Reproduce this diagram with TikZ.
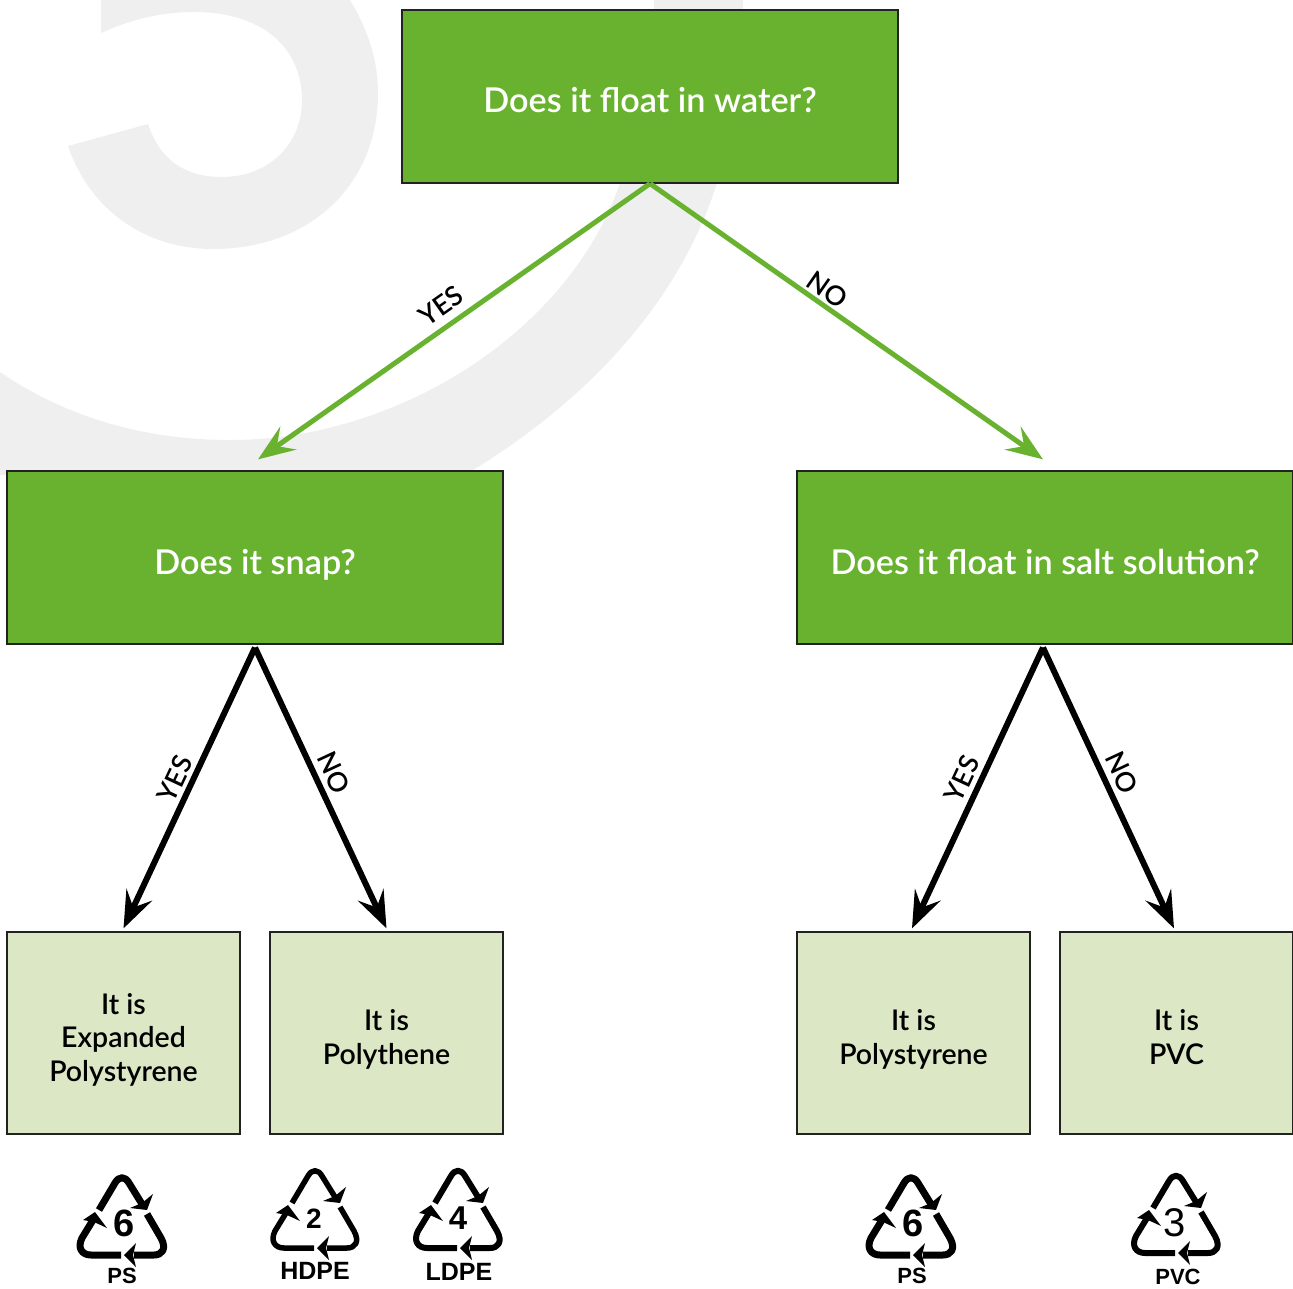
\documentclass[tikz,border=0pt]{standalone}
\usepackage{fontspec}
\setmainfont{Lato}
\newfontfamily\medfont{Lato Medium}
\newfontfamily\semifont{Lato Semibold}
\newfontfamily\symfont{Liberation Sans}
\usetikzlibrary{arrows.meta,calc}
\definecolor{qgreen}{HTML}{68B22F}
\definecolor{leafgreen}{HTML}{DBE7C5}
\definecolor{swoosh}{HTML}{EFEFEF}
\definecolor{edgegrey}{HTML}{222222}
\newcommand\firstline{\rule{0pt}{37pt}}
\newcommand\lastline{\rule[-8pt]{0pt}{1pt}}
\tikzset{
  qbox/.style={draw=edgegrey,line width=1.2pt,fill=qgreen,text=white,minimum width=496pt,minimum height=173pt,inner sep=0pt,text height=41pt,text depth=8pt,font=\semifont\fontsize{34.2}{38}\selectfont},
  leafbox/.style={draw=edgegrey,line width=1.2pt,fill=leafgreen,text=black,minimum width=233pt,minimum height=202pt,inner sep=0pt,align=center,font=\semifont\fontsize{28.5}{33.5}\selectfont},
  head/.style={-{Stealth[length=37pt,width=28pt,inset=14pt]}},
  greenarrow/.style={head,draw=qgreen,fill=qgreen,line width=5pt},
  blackarrow/.style={head,draw=black,fill=black,line width=6pt},
  edgelabel/.style={font=\semifont\fontsize{27}{30}\selectfont,text=black,inner sep=0pt},
  symnum/.style={font=\symfont\bfseries\fontsize{38}{38}\selectfont,inner sep=0pt},
  symnumtwo/.style={font=\symfont\bfseries\fontsize{28}{28}\selectfont,inner sep=0pt},
  symnumfour/.style={font=\symfont\bfseries\fontsize{33}{33}\selectfont,inner sep=0pt},
  symnumthree/.style={font=\symfont\fontsize{40}{40}\selectfont,inner sep=0pt},
  symlabel/.style={font=\symfont\bfseries\fontsize{22}{22}\selectfont,inner sep=0pt},
  symlabelwide/.style={font=\symfont\bfseries\fontsize{25}{25}\selectfont,inner sep=0pt},
  pics/recycle/.style={code={
    \begin{scope}[line width=#1,draw=black,fill=black,line cap=butt,line join=round]
      \draw (-23,33) -- (-7,6) .. controls (-3,-1) and (3,-1) .. (7,6) -- (20,27);
      \fill (25,33) -- (31,17) -- (20,26) -- (8,31) -- cycle;
      \draw (25,37) -- (39,61) .. controls (45,72) and (40,78) .. (32,78) -- (12,78);
      \fill (2,78) -- (14,66) -- (11,78) -- (14,90) -- cycle;
      \draw (-1,78) -- (-31,78) .. controls (-40,78) and (-45,71) .. (-40,61) -- (-29,43);
      \fill (-27,35) -- (-39,43) -- (-28,45) -- (-15,51) -- cycle;
    \end{scope}
  }}
}
\begin{document}
\begin{tikzpicture}[x=1pt,y=-1pt]
\useasboundingbox (0,0) rectangle (1293,1289);
\begin{scope}
  \clip (0,0) rectangle (1293,1289);
  \fill[swoosh] (101,0) -- (101,33) .. controls (130,20) and (160,12) .. (194,12)
    .. controls (265,12) and (302,50) .. (302,100)
    .. controls (302,145) and (268,177) .. (222,177)
    .. controls (185,177) and (160,160) .. (148,124)
    -- (68,146) .. controls (90,210) and (145,249) .. (213,249)
    .. controls (310,249) and (378,185) .. (378,93)
    .. controls (378,60) and (368,30) .. (350,0) -- cycle;
  \fill[swoosh] (0,372) .. controls (70,420) and (150,440) .. (230,440)
    .. controls (400,440) and (570,330) .. (620,183)
    .. controls (645,120) and (654,60) .. (654,0)
    -- (743,0) .. controls (743,60) and (735,120) .. (717,183)
    .. controls (680,300) and (590,400) .. (465,475)
    -- (0,475) -- cycle;
\end{scope}

\node[qbox] (water) at (650,96.5) {Does it float in water?};
\node[qbox] (snap) at (255,557.5) {Does it snap?};
\node[qbox] (salt) at (1045,557.5) {Does it float in salt solution?};

\node[leafbox] (eps) at (123.5,1033) {\firstline It is\\Expanded\\Polystyrene\lastline};
\node[leafbox] (pe) at (386.5,1033) {\firstline It is\\Polythene\lastline};
\node[leafbox] (ps) at (913.5,1033) {\firstline It is\\Polystyrene\lastline};
\node[leafbox] (pvc) at (1176.5,1033) {\firstline It is\\PVC\lastline};

\draw[greenarrow] (water.south) -- ([xshift=3pt,yshift=11pt]snap.north);
\draw[greenarrow] (water.south) -- ([xshift=-2pt,yshift=11pt]salt.north);
\draw[blackarrow] ([yshift=-3pt]snap.south) -- ([yshift=3pt]eps.north);
\draw[blackarrow] ([yshift=-3pt]snap.south) -- ([yshift=3pt]pe.north);
\draw[blackarrow] ([xshift=-2pt,yshift=-3pt]salt.south) -- ([xshift=-1.5pt,yshift=3pt]ps.north);
\draw[blackarrow] ([xshift=-2pt,yshift=-3pt]salt.south) -- ([xshift=-2.5pt,yshift=3pt]pvc.north);

\node[edgelabel,rotate=35] (l1) at (441,306) {YES};
\node[edgelabel,rotate=-35] (l2) at (827,290) {NO};
\node[edgelabel,rotate=65] (l3) at (175,779) {YES};
\node[edgelabel,rotate=-65] (l4) at (334,773) {NO};
\node[edgelabel,rotate=65] (l5) at (962,779) {YES};
\node[edgelabel,rotate=-65] (l6) at (1122,773) {NO};

\pic at (122,1177) {recycle=7pt};
\node[symnum] (n6a) at (124,1223) {6};
\node[symlabel] (tps1) at (122,1276) {PS};
\pic at (315,1170) {recycle=5.5pt};
\node[symnumtwo] (n2) at (314,1219) {2};
\node[symlabelwide] (thdpe) at (315,1271) {HDPE};
\pic at (458,1170) {recycle=6pt};
\node[symnumfour] (n4) at (458,1218) {4};
\node[symlabelwide] (tldpe) at (459,1272) {LDPE};
\pic at (911,1177) {recycle=7pt};
\node[symnum] (n6b) at (913,1223) {6};
\node[symlabel] (tps2) at (912,1276) {PS};
\pic at (1176,1175) {recycle=6pt};
\node[symnumthree] (n3) at (1175,1223) {3};
\node[symlabel] (tpvc) at (1178,1277) {PVC};
\end{tikzpicture}
\end{document}
